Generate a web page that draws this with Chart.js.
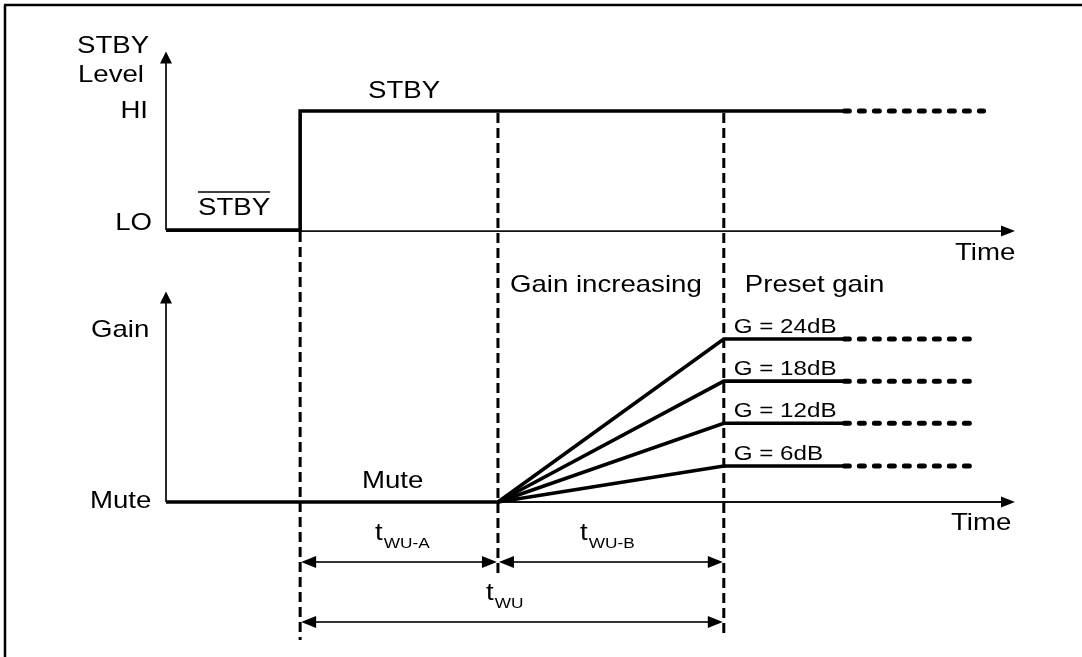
<!DOCTYPE html>
<html>
<head>
<meta charset="utf-8">
<script src="https://cdn.jsdelivr.net/npm/chart.js@4.4.1/dist/chart.umd.min.js"></script>
<style>
  html, body { margin: 0; padding: 0; background: #fff; }
  #wrap { width: 1082px; height: 657px; }
</style>
</head>
<body>
<div id="wrap"><canvas id="myChart" width="1082" height="657"></canvas></div>
<script>
// time in diagram units: 0 = axis origin, 10 = arrow tip
const tStby = 1.58
const tWuA = 3.91
const tWu = 6.57
const tHoldEnd = 7.99
const tStbyDotsEnd = 9.63
const tGainDotsEnd = 9.58

// STBY level trace, 0 = LO, 1 = HI
const stbyTimes = [0, tStby, tStby, tHoldEnd]
const stbyLevels = [0, 0, 1, 1]
const stbyTicks = ['LO', 'HI']

// preset gain curves, height above Mute
const gainLabels = ['G = 24dB', 'G = 18dB', 'G = 12dB', 'G = 6dB']
const gainLevels = [24, 17.8, 11.6, 5.3]
const muteTimes = [0, tWuA]
const muteLevels = [0, 0]

function pts(xs, ys) {
    return xs.map((x, i) => ({x: x, y: ys[i]}))
}

let solid = {borderColor: '#000', borderWidth: 3.6, pointRadius: 0, showLine: true, fill: false,
    borderJoinStyle: 'miter', borderCapStyle: 'butt'}
let dotted = {borderColor: '#000', borderWidth: 5, pointRadius: 0, showLine: true, fill: false,
    borderCapStyle: 'round', borderDash: [5, 10]}

let datasets = []
datasets.push(Object.assign({label: 'STBY', yAxisID: 'yS', data: pts(stbyTimes, stbyLevels)}, solid))
datasets.push(Object.assign({label: 'STBY cont', yAxisID: 'yS', data: pts([tHoldEnd, tStbyDotsEnd], [1, 1])}, dotted))
datasets.push(Object.assign({label: 'Mute', yAxisID: 'yG', data: pts(muteTimes, muteLevels)}, solid))
gainLevels.forEach((g, i) => {
    datasets.push(Object.assign({label: gainLabels[i], yAxisID: 'yG', data: pts([tWuA, tWu, tHoldEnd], [0, g, g])}, solid))
    datasets.push(Object.assign({label: gainLabels[i] + ' cont', yAxisID: 'yG', data: pts([tHoldEnd, tGainDotsEnd], [g, g])}, dotted))
})

const FONT = '"Liberation Sans", Arial, sans-serif'

function txt(ctx, s, x, y, size, align) {
    ctx.save()
    ctx.font = size + 'px ' + FONT
    ctx.textAlign = align || 'left'
    ctx.textBaseline = 'alphabetic'
    ctx.fillStyle = '#000'
    ctx.translate(x, y)
    ctx.scale(1.15, 1)
    ctx.fillText(s, 0, 0)
    let w = ctx.measureText(s).width * 1.15
    ctx.restore()
    return w
}

function subLabel(ctx, main, sub, x, y) {
    let w = txt(ctx, main, x, y, 24)
    txt(ctx, sub, x + w + 1, y + 8, 15)
}

function head(ctx, x, y, dir, len, half) {
    // dir: 'up', 'right', 'left'
    ctx.beginPath()
    ctx.moveTo(x, y)
    if (dir === 'up') {
        ctx.lineTo(x - half, y + len); ctx.lineTo(x + half, y + len)
    } else if (dir === 'right') {
        ctx.lineTo(x - len, y - half); ctx.lineTo(x - len, y + half)
    } else {
        ctx.lineTo(x + len, y - half); ctx.lineTo(x + len, y + half)
    }
    ctx.closePath()
    ctx.fill()
}

function line(ctx, x1, y1, x2, y2) {
    ctx.beginPath()
    ctx.moveTo(x1, y1)
    ctx.lineTo(x2, y2)
    ctx.stroke()
}

const diagram = {
    id: 'diagram',
    beforeDraw(chart) {
        let ctx = chart.ctx
        ctx.save()
        ctx.fillStyle = '#fff'
        ctx.fillRect(0, 0, chart.width, chart.height)
        ctx.restore()
    },
    beforeDatasetsDraw(chart) {
        let ctx = chart.ctx
        let X = v => chart.scales.x.getPixelForValue(v)
        let YS = v => chart.scales.yS.getPixelForValue(v)
        let YG = v => chart.scales.yG.getPixelForValue(v)
        let x0 = X(0), xEnd = X(10)
        ctx.save()
        ctx.strokeStyle = '#111'
        ctx.fillStyle = '#000'
        ctx.lineWidth = 1.8
        // STBY level axes
        line(ctx, x0, YS(0), x0, YS(1.5) + 10)
        head(ctx, x0, YS(1.5), 'up', 12, 6)
        line(ctx, x0, YS(0) + 1, xEnd - 12, YS(0) + 1)
        head(ctx, xEnd, YS(0) + 1, 'right', 14, 5.5)
        // gain axes
        line(ctx, x0, YG(0), x0, YG(31) + 10)
        head(ctx, x0, YG(31), 'up', 12, 6)
        line(ctx, x0, YG(0), xEnd - 12, YG(0))
        head(ctx, xEnd, YG(0), 'right', 14, 5.5)

        // dashed time markers
        ctx.strokeStyle = '#000'
        ctx.lineWidth = 3
        ctx.setLineDash([10, 5])
        line(ctx, X(tStby), YS(0) + 2, X(tStby), 640)
        line(ctx, X(tWuA), YS(1) + 2, X(tWuA), 577)
        line(ctx, X(tWu), YS(1) + 2, X(tWu), 637)
        ctx.restore()
    },
    afterDatasetsDraw(chart) {
        let ctx = chart.ctx
        let X = v => chart.scales.x.getPixelForValue(v)
        let YS = v => chart.scales.yS.getPixelForValue(v)
        let YG = v => chart.scales.yG.getPixelForValue(v)
        ctx.save()

        // dimension arrows
        ctx.strokeStyle = '#333'
        ctx.fillStyle = '#000'
        ctx.lineWidth = 2
        let rows = [[tStby, tWuA, 562], [tWuA, tWu, 562], [tStby, tWu, 622]]
        rows.forEach(r => {
            let a = X(r[0]), b = X(r[1]), y = r[2]
            line(ctx, a + 10, y, b - 10, y)
            head(ctx, a + 1, y, 'left', 15, 6)
            head(ctx, b - 1, y, 'right', 15, 6)
        })

        // texts
        txt(ctx, 'STBY', 77, 53, 24)
        txt(ctx, 'Level', 78, 82, 24)
        txt(ctx, stbyTicks[1], 148, YS(1) + 7, 24, 'right')
        txt(ctx, stbyTicks[0], 152, YS(0), 24, 'right')
        let w = txt(ctx, 'STBY', 198, YS(0) - 15, 24)
        ctx.strokeStyle = '#000'
        ctx.lineWidth = 1.6
        line(ctx, 198, 192, 198 + w, 192)
        txt(ctx, 'STBY', 368, YS(1) - 13, 24)
        txt(ctx, 'Time', 955, YS(0) + 30, 24)

        txt(ctx, 'Gain increasing', X(tWuA) + 12, 292, 24)
        txt(ctx, 'Preset gain', X(tWu) + 21, 292, 24)
        txt(ctx, 'Gain', 91, 337, 24)
        txt(ctx, 'Mute', 90, YG(0) + 6, 24)
        txt(ctx, 'Mute', 362, YG(0) - 14, 24)
        txt(ctx, 'Time', 951, YG(0) + 28, 24)
        gainLevels.forEach((g, i) => {
            txt(ctx, gainLabels[i], X(tWu) + 10, YG(g) - 6, 21)
        })

        subLabel(ctx, 't', 'WU-A', 375, 540)
        subLabel(ctx, 't', 'WU-B', 580, 540)
        subLabel(ctx, 't', 'WU', 486, 600)

        // figure frame
        ctx.strokeStyle = '#000'
        ctx.lineWidth = 2.5
        line(ctx, 4, 5, chart.width, 5)
        line(ctx, 5, 5, 5, chart.height)
        ctx.restore()
    }
}

var ctx = document.getElementById('myChart')
var myChart = new Chart(ctx, {
    type: 'scatter',
    data: {datasets: datasets},
    options: {
        responsive: false,
        animation: false,
        events: [],
        layout: {padding: {left: 166, right: 67, top: 40, bottom: 12}},
        plugins: {legend: {display: false}, tooltip: {enabled: false}, title: {display: false}},
        scales: {
            x: {type: 'linear', min: 0, max: 10, display: false},
            yS: {type: 'linear', position: 'left', min: -3.487, max: 1.597, display: false},
            yG: {type: 'linear', position: 'left', min: -21.06, max: 68.04, display: false}
        }
    },
    plugins: [diagram]
})
</script>
</body>
</html>
